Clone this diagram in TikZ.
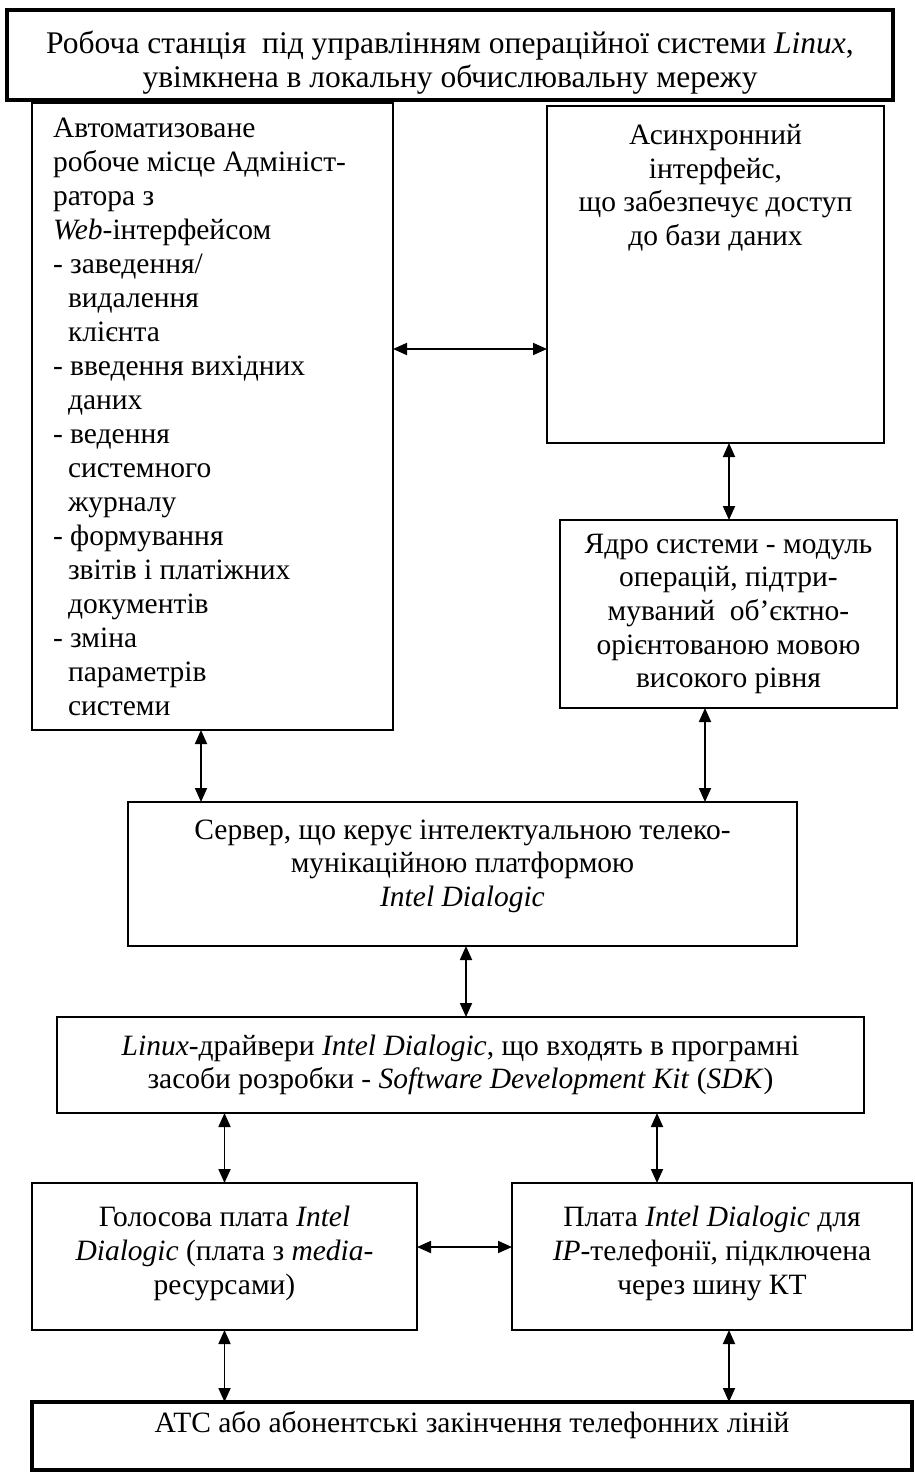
\documentclass[tikz,border=0pt]{standalone}
\usepackage{fontspec}
\setmainfont{Liberation Serif}
\usepackage{tikz}
\usetikzlibrary{arrows.meta}
\tikzset{
    plain-box/.style = {draw, line width=2.4pt, rectangle, inner sep=0pt, outer sep=0pt, anchor=north west, font=\fontsize{29.5pt}{33.6pt}\selectfont},
    heavy-box/.style = {plain-box, line width=3.5pt},
    both-arrow/.style = {line width=1.8pt, arrows={Triangle[length=14pt,width=12pt]-Triangle[length=14pt,width=12pt]}},
}
\newcommand{\indentline}{\hspace*{15pt}}

\begin{document}
\begin{tikzpicture}[x=1pt, y=-1pt]
\useasboundingbox (0,0) rectangle (915,1472);

\node [heavy-box, font=\fontsize{31.5pt}{34pt}\selectfont] (station) at (7,10) {\begin{minipage}[c][90pt][t]{886pt}
    \vspace*{20pt}\centering\strut Робоча станція~ під управлінням операційної системи \textit{Linux},\\
    увімкнена в локальну обчислювальну мережу
\end{minipage}};

\node [plain-box, font=\fontsize{29.5pt}{34pt}\selectfont] (admin) at (32,103) {\begin{minipage}[c][627pt][t]{361pt}
    \leftskip=21pt\vspace*{11pt}\strut Автоматизоване\\
    робоче місце Адмініст-\\
    ратора з\\
    \textit{Web}-інтерфейсом\\
    - заведення/\\
    \indentline видалення\\
    \indentline клієнта\\
    - введення вихідних\\
    \indentline даних\\
    - ведення\\
    \indentline системного\\
    \indentline журналу\\
    - формування\\
    \indentline звітів і платіжних\\
    \indentline документів\\
    - зміна\\
    \indentline параметрів\\
    \indentline системи
\end{minipage}};

\node [plain-box] (async) at (547,106) {\begin{minipage}[c][337pt][t]{337pt}
    \vspace*{15pt}\centering\strut Асинхронний\\
    інтерфейс,\\
    що забезпечує доступ\\
    до бази даних
\end{minipage}};

\node [plain-box] (core) at (560,520) {\begin{minipage}[c][188pt][c]{337pt}
    \centering Ядро системи - модуль\\
    операцій, підтри-\\
    муваний~ об’єктно-\\
    орієнтованою мовою\\
    високого рівня
\end{minipage}};

\node [plain-box] (server) at (128,802) {\begin{minipage}[c][144pt][t]{669pt}
    \vspace*{13.5pt}\centering\strut Сервер, що керує інтелектуальною телеко-\\
    мунікаційною платформою\\
    \textit{Intel Dialogic}
\end{minipage}};

\node [plain-box] (drivers) at (57,1017) {\begin{minipage}[c][96pt][c]{807pt}
    \centering \textit{Linux}-драйвери \textit{Intel Dialogic}, що входять в програмні\\
    засоби розробки - \textit{Software Development Kit} (\textit{SDK})
\end{minipage}};

\node [plain-box] (voice) at (32,1183) {\begin{minipage}[c][147pt][c]{385pt}
    \centering Голосова плата \textit{Intel}\\
    \textit{Dialogic} (плата з \textit{media}-\\
    ресурсами)\vspace*{6pt}
\end{minipage}};

\node [plain-box] (ipcard) at (512,1183) {\begin{minipage}[c][147pt][c]{400pt}
    \centering Плата \textit{Intel Dialogic} для\\
    \textit{IP}-телефонії, підключена\\
    через шину КТ\vspace*{6pt}
\end{minipage}};

\node [heavy-box] (pbx) at (32,1402) {\begin{minipage}[c][68pt][t]{880pt}
    \vspace*{6.5pt}\centering\strut АТС або абонентські закінчення телефонних ліній
\end{minipage}};

\coordinate (h-admin) at ([yshift=67.5pt]admin.east);
\coordinate (v-async) at ([xshift=13.5pt]async.south);
\coordinate (v-admin) at ([xshift=-11.5pt]admin.south);
\coordinate (v-core) at ([xshift=-23.5pt]core.south);
\coordinate (v-server) at ([xshift=3.5pt]server.south);
\coordinate (v-ipcard) at ([xshift=-55pt]ipcard.north);
\coordinate (h-voice) at ([yshift=9.5pt]voice.east);
\coordinate (v-pbx) at ([xshift=17pt]ipcard.south);

\draw [both-arrow] (h-admin) -- (h-admin -| async.west);
\draw [both-arrow] (v-async) -- (v-async |- core.north);
\draw [both-arrow] (v-admin) -- (v-admin |- server.north);
\draw [both-arrow] (v-core) -- (v-core |- server.north);
\draw [both-arrow] (v-server) -- (v-server |- drivers.north);
\draw [both-arrow] (voice.north) -- (voice.north |- drivers.south);
\draw [both-arrow] (v-ipcard) -- (v-ipcard |- drivers.south);
\draw [both-arrow] (h-voice) -- (h-voice -| ipcard.west);
\draw [both-arrow] (voice.south) -- (voice.south |- pbx.north);
\draw [both-arrow] (v-pbx) -- (v-pbx |- pbx.north);
\end{tikzpicture}
\end{document}
